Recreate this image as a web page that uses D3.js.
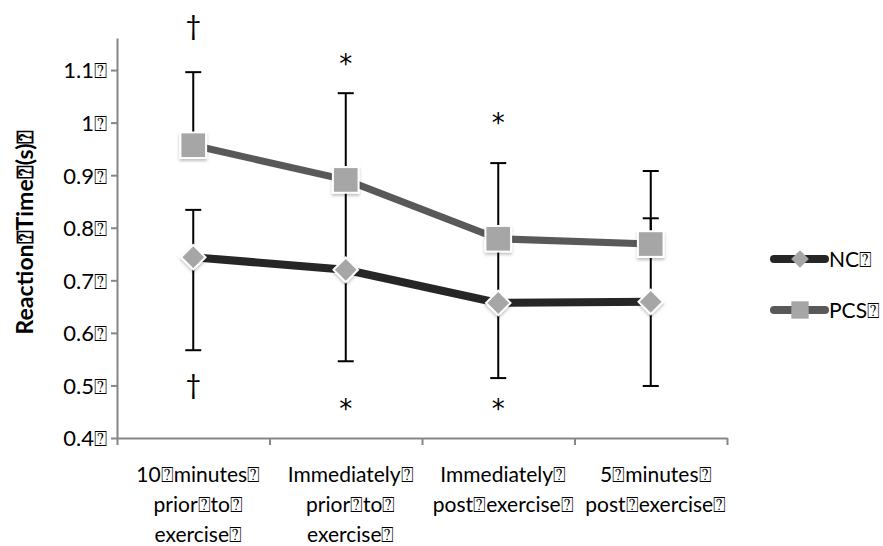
<!DOCTYPE html>
<html>
<head>
<meta charset="utf-8">
<script src="https://cdn.jsdelivr.net/npm/d3@7"></script>
<style>
  body { margin: 0; background: #fff; }
  text { font-family: Lato, "Open Sans", sans-serif; fill: #000; }
</style>
</head>
<body>
<svg id="chart"></svg>
<script>
const width = 883;
const height = 546;

const B = "\u2370"; // the missing-glyph box that Excel left in the labels

const categories = [
    ["10" + B + "minutes" + B, "prior" + B + "to" + B, "exercise" + B],
    ["Immediately" + B, "prior" + B + "to" + B, "exercise" + B],
    ["Immediately" + B, "post" + B + "exercise" + B],
    ["5" + B + "minutes" + B, "post" + B + "exercise" + B]
];
const ncValues  = [0.744, 0.720, 0.657, 0.659];
const pcsValues = [0.957, 0.891, 0.779, 0.769];
const ncErrUp   = [0.090, 0.160, 0.120, 0.159];
const ncErrDown = [0.177, 0.174, 0.143, 0.160];
const pcsErrUp  = [0.139, 0.165, 0.144, 0.139];
const yTicks = [0.4, 0.5, 0.6, 0.7, 0.8, 0.9, 1, 1.1];
// significance marks: symbol and the value level they sit at
const marksTop     = ["\u2020", "*", "*", ""];
const marksTopAt   = [1.184, 1.123, 1.011, null];
const marksBottom   = ["\u2020", "*", "*", ""];
const marksBottomAt = [0.501, 0.467, 0.467, null];
const seriesNames = ["NC", "PCS"];

const svg = d3.select("#chart")
    .attr("width", width)
    .attr("height", height);

const defs = svg.append("defs");
const glow = defs.append("filter").attr("id", "glow")
    .attr("x", "-50%").attr("y", "-50%").attr("width", "200%").attr("height", "200%");
glow.append("feDropShadow").attr("dx", 0).attr("dy", 2).attr("stdDeviation", 1.5)
    .attr("flood-color", "#000").attr("flood-opacity", 0.25);

const x = d3.scaleBand().domain(d3.range(categories.length)).range([117, 727]);
const xEdge = d3.scaleLinear().domain([0, categories.length]).range([117, 727]);
const y = d3.scaleLinear().domain([0.4, 1.161]).range([438, 38]);
const cx = i => x(i) + x.bandwidth() / 2;

// y axis
const yAxis = svg.append("g")
    .attr("transform", "translate(117,0)")
    .call(d3.axisLeft(y).tickValues(yTicks).tickSize(6).tickSizeOuter(0)
        .tickFormat(d => d3.format("")(d) + B));
yAxis.selectAll("path, line").attr("stroke", "#868686").attr("stroke-width", 2);
yAxis.selectAll("text").attr("font-size", 22).attr("x", -10).attr("dy", "0.36em");

// x axis
const xAxis = svg.append("g")
    .attr("transform", "translate(0,438)")
    .call(d3.axisBottom(xEdge).ticks(categories.length).tickSize(7).tickSizeOuter(0).tickFormat(""));
xAxis.selectAll("path, line").attr("stroke", "#868686").attr("stroke-width", 2);

categories.forEach((lines, i) => {
    const t = svg.append("text")
        .attr("text-anchor", "middle")
        .attr("font-size", 21);
    lines.forEach((ln, k) => {
        t.append("tspan").attr("x", cx(i) + 5).attr("y", 482 + k * 30).text(ln);
    });
});

// y title
svg.append("text")
    .attr("transform", "translate(33,232) rotate(-90)")
    .attr("text-anchor", "middle")
    .attr("font-size", 23)
    .attr("font-weight", "bold")
    .text("Reaction" + B + "Time" + B + "(s)" + B);

// error bars
function errorBar(i, lo, hi) {
    const g = svg.append("g").attr("stroke", "#000").attr("stroke-width", 2);
    g.append("line").attr("x1", cx(i)).attr("x2", cx(i)).attr("y1", y(lo)).attr("y2", y(hi));
    g.append("line").attr("x1", cx(i) - 8).attr("x2", cx(i) + 8).attr("y1", y(lo)).attr("y2", y(lo));
    g.append("line").attr("x1", cx(i) - 8).attr("x2", cx(i) + 8).attr("y1", y(hi)).attr("y2", y(hi));
}
ncValues.forEach((v, i) => errorBar(i, v - ncErrDown[i], v + ncErrUp[i]));
pcsValues.forEach((v, i) => errorBar(i, v, v + pcsErrUp[i]));

// lines
const line = d3.line().x((d, i) => cx(i)).y(d => y(d));
svg.append("path").datum(ncValues).attr("d", line)
    .attr("fill", "none").attr("stroke", "#262626").attr("stroke-width", 8);
svg.append("path").datum(pcsValues).attr("d", line)
    .attr("fill", "none").attr("stroke", "#595959").attr("stroke-width", 7);

// markers
const diamond = d3.symbol().type(d3.symbolDiamond2).size(300);
const square = d3.symbol().type(d3.symbolSquare).size(560);

svg.selectAll(".nc-mark").data(ncValues).enter().append("path")
    .attr("class", "nc-mark")
    .attr("d", diamond)
    .attr("transform", (d, i) => `translate(${cx(i)},${y(d)})`)
    .attr("fill", "#a6a6a6").attr("stroke", "#fff").attr("stroke-width", 4)
    .attr("paint-order", "stroke")
    .attr("filter", "url(#glow)");

svg.selectAll(".pcs-mark").data(pcsValues).enter().append("path")
    .attr("class", "pcs-mark")
    .attr("d", square)
    .attr("transform", (d, i) => `translate(${cx(i)},${y(d)})`)
    .attr("fill", "#a6a6a6").attr("stroke", "#fff").attr("stroke-width", 4)
    .attr("paint-order", "stroke")
    .attr("filter", "url(#glow)");

// significance marks
function sigMark(m, v, i) {
    if (!m) return;
    const star = m === "*";
    svg.append("text")
        .attr("x", cx(i))
        .attr("y", y(v) + (star ? 15 : 9))
        .attr("text-anchor", "middle")
        .style("font-family", star ? "'DejaVu Sans'" : "Lato")
        .attr("font-size", star ? 26 : 27)
        .text(m);
}
marksTop.forEach((m, i) => sigMark(m, marksTopAt[i], i));
marksBottom.forEach((m, i) => sigMark(m, marksBottomAt[i], i));

// legend
const legend = svg.append("g");
const legendRows = [
    { name: seriesNames[0], color: "#262626", sym: d3.symbol().type(d3.symbolDiamond2).size(200), yy: 259 },
    { name: seriesNames[1], color: "#595959", sym: d3.symbol().type(d3.symbolSquare).size(300), yy: 310 }
];
legendRows.forEach(r => {
    legend.append("line").attr("x1", 774).attr("x2", 825).attr("y1", r.yy).attr("y2", r.yy)
        .attr("stroke", r.color).attr("stroke-width", 8).attr("stroke-linecap", "round");
    legend.append("path").attr("d", r.sym())
        .attr("transform", `translate(800,${r.yy})`).attr("fill", "#a6a6a6");
    legend.append("text").attr("x", 829).attr("y", r.yy + 8).attr("font-size", 21).text(r.name + B);
});
</script>
</body>
</html>
